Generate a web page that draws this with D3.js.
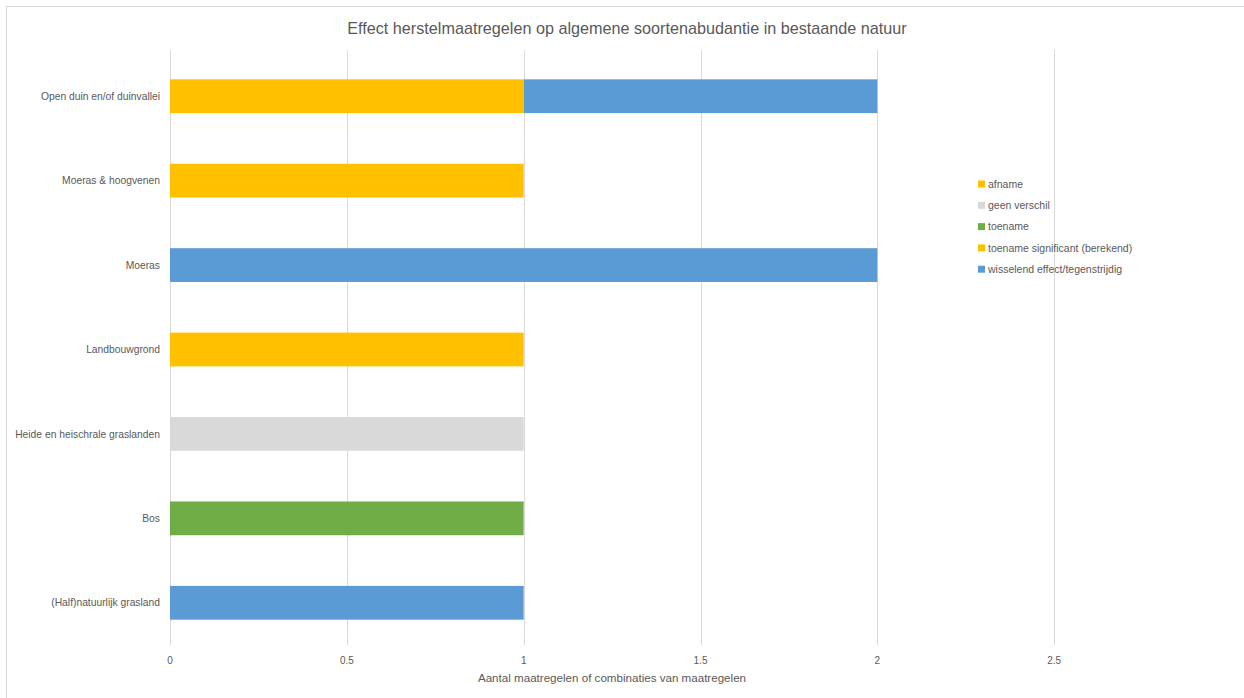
<!DOCTYPE html>
<html>
<head>
<meta charset="utf-8">
<script src="https://cdn.jsdelivr.net/npm/d3@7"></script>
<style>
  html, body { margin: 0; padding: 0; background: #fff; overflow: hidden; }
  svg { display: block; font-family: "Liberation Sans", Arial, sans-serif; }
</style>
</head>
<body>
<svg id="chart" width="1244" height="698"></svg>
<script>
// Habitat categories, top to bottom
const categories = [
  "Open duin en/of duinvallei",
  "Moeras & hoogvenen",
  "Moeras",
  "Landbouwgrond",
  "Heide en heischrale graslanden",
  "Bos",
  "(Half)natuurlijk grasland"
];

// Series (stack order) and their counts per category
const seriesNames = [
  "afname",
  "geen verschil",
  "toename",
  "toename significant (berekend)",
  "wisselend effect/tegenstrijdig"
];
const afname          = [0, 0, 0, 0, 0, 0, 0];
const geenVerschil    = [0, 0, 0, 0, 1, 0, 0];
const toename         = [0, 0, 0, 0, 0, 1, 0];
const toenameSignif   = [1, 1, 0, 1, 0, 0, 0];
const wisselend       = [1, 0, 2, 0, 0, 0, 1];
const seriesColors = ["#FFC000", "#D9D9D9", "#70AD47", "#FFC000", "#5B9BD5"];

const xTicks = [0, 0.5, 1, 1.5, 2, 2.5];
const xTickLabels = ["0", "0.5", "1", "1.5", "2", "2.5"];

const titleText = "Effect herstelmaatregelen op algemene soortenabudantie in bestaande natuur";
const xAxisTitle = "Aantal maatregelen of combinaties van maatregelen";

// Build rows for stacking
const seriesValues = [afname, geenVerschil, toename, toenameSignif, wisselend];
const rows = categories.map((c, i) => {
  const r = { cat: c };
  seriesNames.forEach((s, j) => { r[s] = seriesValues[j][i]; });
  return r;
});
const stacked = d3.stack().keys(seriesNames)(rows);

const svg = d3.select("#chart");
const textColor = "#595959";
const gridColor = "#D9D9D9";

// Chart area border
svg.append("rect")
  .attr("x", 6.5).attr("y", 6.5)
  .attr("width", 1400).attr("height", 900)
  .attr("fill", "none").attr("stroke", gridColor).attr("stroke-width", 1);

const plot = { left: 170, right: 1231, top: 54, bottom: 645 };

const x = d3.scaleLinear().domain([0, 3]).range([plot.left, plot.right]);
const y = d3.scaleBand().domain(categories)
  .range([plot.top, plot.bottom]).paddingInner(0.6).paddingOuter(0.3);

// Vertical gridlines
svg.append("g")
  .selectAll("line")
  .data(xTicks)
  .join("line")
  .attr("x1", d => Math.round(x(d)) + 0.5)
  .attr("x2", d => Math.round(x(d)) + 0.5)
  .attr("y1", 50)
  .attr("y2", plot.bottom)
  .attr("stroke", gridColor)
  .attr("stroke-width", 1);

// Stacked bars
svg.append("g")
  .selectAll("g")
  .data(stacked)
  .join("g")
  .attr("fill", (d, i) => seriesColors[i])
  .selectAll("rect")
  .data(d => d.filter(p => p[1] - p[0] > 0))
  .join("rect")
  .attr("x", d => x(d[0]))
  .attr("y", d => y(d.data.cat))
  .attr("width", d => x(d[1]) - x(d[0]))
  .attr("height", y.bandwidth());

// Category labels
svg.append("g")
  .selectAll("text")
  .data(categories)
  .join("text")
  .attr("x", 160)
  .attr("y", d => y(d) + y.bandwidth() / 2)
  .attr("dy", "0.35em")
  .attr("text-anchor", "end")
  .attr("font-size", 10.3)
  .attr("fill", textColor)
  .text(d => d);

// X tick labels
svg.append("g")
  .selectAll("text")
  .data(xTicks)
  .join("text")
  .attr("x", d => x(d))
  .attr("y", 660)
  .attr("dy", "0.35em")
  .attr("text-anchor", "middle")
  .attr("font-size", 10)
  .attr("fill", textColor)
  .text((d, i) => xTickLabels[i]);

// Axis title
svg.append("text")
  .attr("x", 612)
  .attr("y", 678)
  .attr("dy", "0.35em")
  .attr("text-anchor", "middle")
  .attr("font-size", 11.6)
  .attr("fill", textColor)
  .text(xAxisTitle);

// Chart title
svg.append("text")
  .attr("x", 627)
  .attr("y", 28)
  .attr("dy", "0.35em")
  .attr("text-anchor", "middle")
  .attr("font-size", 16.2)
  .attr("fill", textColor)
  .text(titleText);

// Legend
const legend = svg.append("g").attr("transform", "translate(978,184)");
const item = legend.selectAll("g")
  .data(seriesNames)
  .join("g")
  .attr("transform", (d, i) => `translate(0,${i * 21.3})`);
item.append("rect")
  .attr("x", 0).attr("y", -3.5)
  .attr("width", 7).attr("height", 7)
  .attr("fill", (d, i) => seriesColors[i]);
item.append("text")
  .attr("x", 10)
  .attr("y", 0)
  .attr("dy", "0.35em")
  .attr("font-size", 10.5)
  .attr("fill", textColor)
  .text(d => d);
</script>
</body>
</html>
